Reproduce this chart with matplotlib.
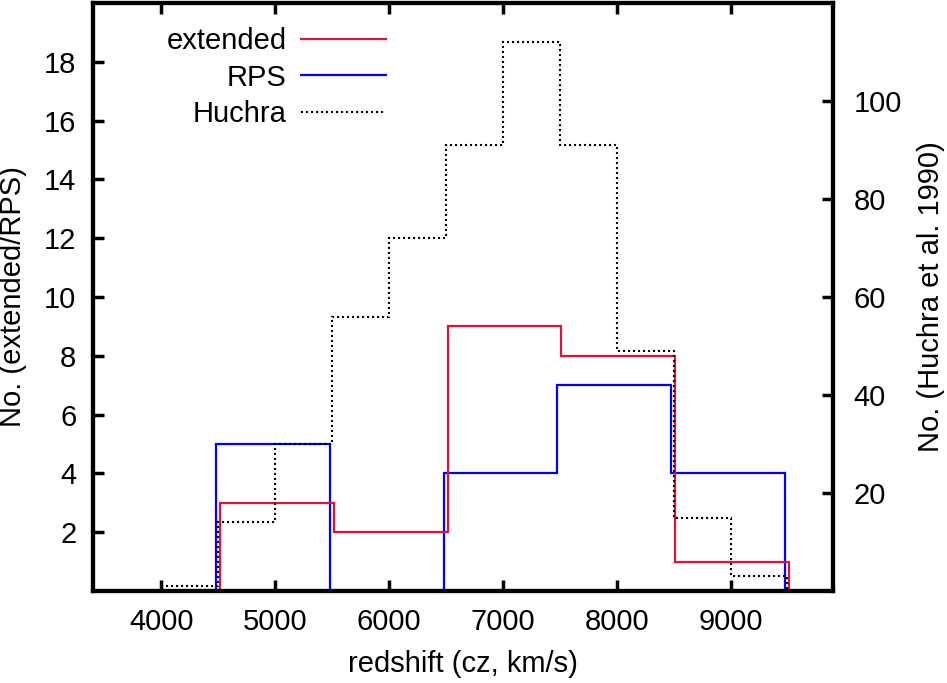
"""
redshift histograms: extended / RPS galaxies and Huchra et al. 1990
"""

import numpy as np
import matplotlib
matplotlib.use("Agg")
import matplotlib.pyplot as plt
from matplotlib.lines import Line2D

plt.rcParams['font.family'] = ['Liberation Sans', 'DejaVu Sans']
plt.rcParams['font.size'] = 21

# bins of 1000 km/s for our samples, 500 km/s for Huchra
sample_edges = [4500, 5500, 6500, 7500, 8500, 9500]
extended_counts = [3, 2, 9, 8, 1]
rps_counts = [5, 0, 4, 7, 4]

huchra_edges = [4000, 4500, 5000, 5500, 6000, 6500, 7000, 7500, 8000, 8500, 9000, 9500]
huchra_counts = [1, 14, 30, 56, 72, 91, 112, 91, 49, 15, 3]

xticks = [4000, 5000, 6000, 7000, 8000, 9000]
yticks_left = [2, 4, 6, 8, 10, 12, 14, 16, 18]
yticks_right = [20, 40, 60, 80, 100]

RED = '#dc143c'
BLUE = '#0000ff'
HUCHRA_LS = (0, (1, 1.4))

# the two sample histograms are drawn slightly shifted so they don't overlap
ext_edges = np.array(sample_edges) + 15
rps_edges = np.array(sample_edges) - 20

fig = plt.figure(figsize=(9.47, 6.83), dpi=100)
ax = fig.add_axes([0.0982, 0.1347, 0.7814, 0.8609])
ax2 = ax.twinx()

ax.stairs(extended_counts, ext_edges, color=RED, lw=1.6, zorder=3)
ax.stairs(rps_counts, rps_edges, color=BLUE, lw=1.6, zorder=2)
ax2.stairs(huchra_counts, huchra_edges, color='black', lw=1.5, linestyle=HUCHRA_LS)

ax.set_xlim(3400, 9900)
ax.set_ylim(0, 20)
ax2.set_ylim(0, 120)

ax.set_xticks(xticks)
ax.set_yticks(yticks_left)
ax2.set_yticks(yticks_right)

ax.tick_params(axis='x', direction='in', top=True, length=8, width=2.5, pad=12)
ax.tick_params(axis='y', direction='in', right=False, length=8, width=2.5, pad=12)
ax2.tick_params(axis='y', direction='in', length=8, width=2.5, pad=15)

for a in (ax, ax2):
    for s in a.spines.values():
        s.set_linewidth(3)

ax.set_xlabel('redshift (cz, km/s)', labelpad=10)
ax.set_ylabel('No. (extended/RPS)', labelpad=12)
ax2.set_ylabel('No. (Huchra et al. 1990)', labelpad=11)

# gnuplot-like key: labels on the left, samples on the right
handles = [Line2D([], [], color=RED, lw=1.6),
           Line2D([], [], color=BLUE, lw=1.6),
           Line2D([], [], color='black', lw=1.5, linestyle=HUCHRA_LS)]
labels = ['extended', 'RPS', 'Huchra']
ax2.legend(handles, labels, loc='upper right', bbox_to_anchor=(0.424, 0.995),
           markerfirst=False, frameon=False, handlelength=2.9,
           handletextpad=0.5, labelspacing=0.30, borderaxespad=0.32)

fig.savefig('out.png', dpi=100)
